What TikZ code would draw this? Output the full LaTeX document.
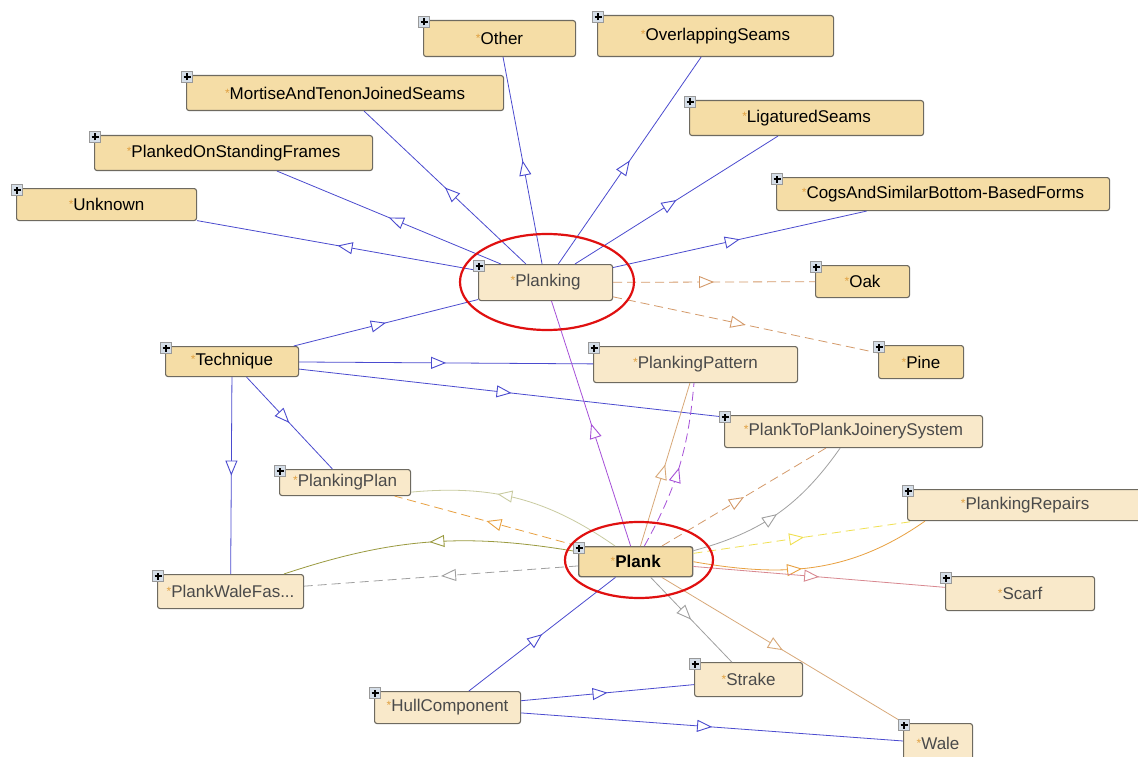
\documentclass[tikz,border=0pt]{standalone}
\usepackage{fontspec}
\setmainfont{Liberation Sans}
\usetikzlibrary{arrows.meta,decorations.markings}

\definecolor{darkfill}{HTML}{F5DDA6}
\definecolor{lightfill}{HTML}{F9E9CA}
\definecolor{boxline}{HTML}{6E6A60}
\definecolor{labelgray}{HTML}{4A4A4A}
\definecolor{starcol}{HTML}{E0A040}
\definecolor{isa}{HTML}{4B4BCF}
\definecolor{woodline}{HTML}{D49A6A}
\definecolor{violetline}{HTML}{A650D8}
\definecolor{tanline}{HTML}{D8A878}
\definecolor{olivelight}{HTML}{C9CBA0}
\definecolor{oliveline}{HTML}{9A9A40}
\definecolor{greyline}{HTML}{A0A0A0}
\definecolor{orangeline}{HTML}{E8A040}
\definecolor{yellowline}{HTML}{F0E050}
\definecolor{roseline}{HTML}{D88890}
\definecolor{plusfill}{HTML}{D5DEE8}
\definecolor{ringred}{HTML}{E01010}

\newcommand{\mk}{{\color{starcol}\fontsize{12}{12}\selectfont\raisebox{2pt}{*}}}

\begin{document}
\begin{tikzpicture}[x=1pt, y=-1pt,
  cls/.style={draw=boxline, line width=1.1pt, rounded corners=2.5pt, inner sep=0pt,
    anchor=north west, font=\fontsize{17}{19}\selectfont},
  dark/.style={cls, fill=darkfill, text=black},
  light/.style={cls, fill=lightfill, text=labelgray},
  plus/.style={draw=gray!80, fill=plusfill, minimum size=11pt, inner sep=0pt, line width=0.6pt,
    path picture={\draw[black, line width=1.2pt]
      ([xshift=-3.5pt]path picture bounding box.center) -- ([xshift=3.5pt]path picture bounding box.center)
      ([yshift=-3.5pt]path picture bounding box.center) -- ([yshift=3.5pt]path picture bounding box.center);}},
  link/.style={line width=0.8pt, postaction={decorate},
    decoration={markings, mark=at position #1 with {\arrow{Triangle[length=15pt, width=12pt, line width=0.9pt, fill=white]}}}},
  link/.default=0.5,
  dashy/.style={dash pattern=on 9pt off 5pt},
  ring/.style={draw=ringred, line width=2.2pt}]

\fill[white] (0,0) rectangle (1138,757);
\useasboundingbox (0,0) rectangle (1138,757);

% classes
\node[dark, minimum width=152, minimum height=36] (Other) at (423,20) {\mk Other};
\node[dark, minimum width=236, minimum height=41] (OverlappingSeams) at (597,15) {\mk OverlappingSeams};
\node[dark, minimum width=317, minimum height=35] (Mortise) at (186,75) {\mk MortiseAndTenonJoinedSeams};
\node[dark, minimum width=234, minimum height=35] (Ligatured) at (689,100) {\mk LigaturedSeams};
\node[dark, minimum width=278, minimum height=35] (PlankedOn) at (94,135) {\mk PlankedOnStandingFrames};
\node[dark, minimum width=333, minimum height=33] (Cogs) at (776,177) {\mk CogsAndSimilarBottom-BasedForms};
\node[dark, minimum width=180, minimum height=32] (Unknown) at (16,188) {\mk Unknown};
\node[light, minimum width=134, minimum height=36] (Planking) at (478,264) {\mk Planking};
\node[dark, minimum width=94, minimum height=32] (Oak) at (815,265) {\mk Oak};
\node[dark, minimum width=85, minimum height=33] (Pine) at (878,345) {\mk Pine};
\node[dark, minimum width=133, minimum height=30] (Technique) at (165,346) {\mk Technique};
\node[light, minimum width=204, minimum height=36] (PlankingPattern) at (593,346) {\mk PlankingPattern};
\node[light, minimum width=258, minimum height=32] (PlankToPlank) at (724,415) {\mk PlankToPlankJoinerySystem};
\node[light, minimum width=131, minimum height=26] (PlankingPlan) at (279,469) {\mk PlankingPlan};
\node[light, minimum width=235, minimum height=31] (PlankingRepairs) at (907,489) {\mk PlankingRepairs};
\node[dark, minimum width=114, minimum height=30, line width=1.4pt] (Plank) at (578,546) {\mk\bfseries Plank};
\node[light, minimum width=146, minimum height=34] (PlankWaleFas) at (157,574) {\mk PlankWaleFas...};
\node[light, minimum width=149, minimum height=34] (Scarf) at (945,576) {\mk Scarf};
\node[light, minimum width=108, minimum height=34] (Strake) at (694,662) {\mk Strake};
\node[light, minimum width=146, minimum height=32] (HullComponent) at (374,691) {\mk HullComponent};
\node[light, minimum width=69, minimum height=40] (Wale) at (903,723) {\mk Wale};

% subclass links
\draw[link, isa] (Planking) -- (Unknown);
\draw[link, isa] (Planking) -- (PlankedOn);
\draw[link, isa] (Planking) -- (Mortise);
\draw[link, isa] (Planking) -- (Other);
\draw[link, isa] (Planking) -- (OverlappingSeams);
\draw[link, isa] (Planking) -- (Ligatured);
\draw[link, isa] (Planking) -- (Cogs);
\draw[link, isa] (Technique) -- (Planking);
\draw[link, isa] (Technique) -- (PlankingPattern);
\draw[link, isa] (Technique) -- (PlankToPlank);
\draw[link, isa] (Technique) -- (PlankingPlan);
\draw[link, isa] (Technique) -- (PlankWaleFas);
\draw[link, isa] (HullComponent) -- (Plank);
\draw[link, isa] (HullComponent) -- (Strake);
\draw[link, isa] (HullComponent) -- (Wale);

% other relations
\draw[link, woodline, dashy] (Planking) -- (Oak);
\draw[link, woodline, dashy] (Planking) -- (Pine);
\draw[link, violetline] (Plank) -- (Planking);
\draw[link, tanline] (Plank) -- (PlankingPattern);
\draw[link, violetline, dashy] (Plank) to[bend right=12] (PlankingPattern);
\draw[link, woodline, dashy] (Plank) -- (PlankToPlank);
\draw[link, greyline] (Plank) to[bend right=20] (PlankToPlank);
\draw[link=0.6, olivelight] (Plank) to[bend right=20] ([yshift=4pt]PlankingPlan.south east);
\draw[link, orangeline, dashy] (Plank) -- (PlankingPlan);
\draw[link, oliveline] (Plank) to[bend right=14] (PlankWaleFas);
\draw[link, greyline, dashy] (Plank) -- (PlankWaleFas);
\draw[link, yellowline, dashy] (Plank) -- (PlankingRepairs);
\draw[link=0.45, orangeline] (Plank.east) to[out=-10, in=215] ([xshift=18pt]PlankingRepairs.south west);
\draw[link, roseline] (Plank) -- (Scarf);
\draw[link, greyline] (Plank) -- (Strake);
\draw[link, tanline] (Plank) -- (Wale);

% expand icons
\foreach \n in {Other,OverlappingSeams,Mortise,Ligatured,PlankedOn,Cogs,Unknown,Planking,Oak,Pine,
  Technique,PlankingPattern,PlankToPlank,PlankingPlan,PlankingRepairs,Plank,PlankWaleFas,Scarf,
  Strake,HullComponent,Wale}
  \node[plus] (\n-plus) at ([shift={(1,2)}]\n.north west) {};

% highlight rings
\draw[ring] (547,282) ellipse [x radius=87, y radius=48];
\draw[ring] (639,560) ellipse [x radius=74, y radius=38];
\end{tikzpicture}
\end{document}
